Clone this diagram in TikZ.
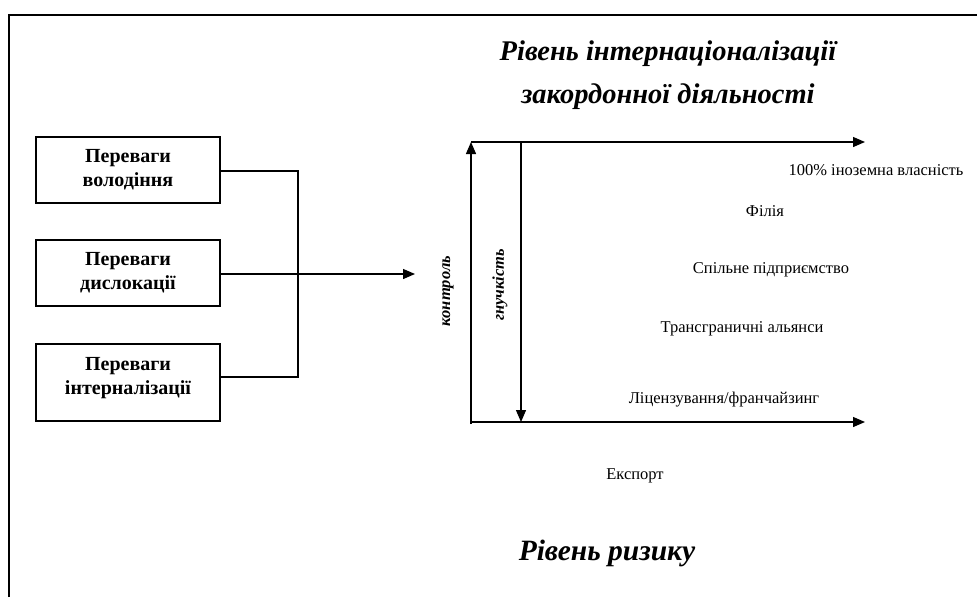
\documentclass[tikz,border=0pt]{standalone}
\usepackage{fontspec}
\setmainfont{Liberation Serif}
\usetikzlibrary{arrows.meta}
\begin{document}
\begin{tikzpicture}[x=1pt,y=-1pt, line width=1.3pt,
  >={Triangle[length=12pt,width=10pt]},
  box/.style={draw, line width=1.2pt, minimum width=184pt, align=center,
    font=\fontsize{20}{24}\selectfont\bfseries, inner sep=0pt},
  lbl/.style={font=\fontsize{16.5}{18}\selectfont, inner sep=0pt},
  ttl/.style={font=\fontsize{28.5}{32}\selectfont\bfseries\itshape, inner sep=0pt},
  vlbl/.style={font=\fontsize{16.5}{18}\selectfont\bfseries\itshape, inner sep=0pt, rotate=90}]
\useasboundingbox (0,0) rectangle (977,597);
\draw[line width=1.6pt] (9,597) -- (9,15) -- (977,15);

\node[ttl] (t1) at (668,54) {Рівень інтернаціоналізації};
\node[ttl] (t2) at (668,97) {закордонної діяльності};
\node[ttl, font=\fontsize{29.5}{32}\selectfont\bfseries\itshape] (t3) at (607,553) {Рівень ризику};

\node[box, minimum height=66pt] (b1) at (128,170) {Переваги\\володіння};
\node[box, minimum height=66pt] (b2) at (128,273) {Переваги\\дислокації};
\node[box, minimum height=77pt] (b3) at (128,382.5) {Переваги\\інтерналізації\\[-10pt]\mbox{}};

\coordinate (j) at (298,274);
\coordinate (arr) at (415,274);
\draw (b1.east |- 0,171) -| (j) |- (b3.east |- 0,377);
\draw[->] (b2.east |- 0,274) -- (arr);

\coordinate (O) at (471,422);
\coordinate (Ob) at (471,424);
\coordinate (TL) at (471,142);
\coordinate (TR) at (865,142);
\coordinate (BR) at (865,422);
\coordinate (Gt) at (521,142);
\coordinate (Gb) at (521,422);
\draw[->] (Ob) -- (TL);
\draw[->] (TL) -- (TR);
\draw[->] (O) -- (BR);
\draw[->] (Gt) -- (Gb);

\node[vlbl] (k) at (448,291) {контроль};
\node[vlbl] (g) at (500,285) {гнучкість};

\node[lbl] (l1) at (876,170) {100\% іноземна власність};
\node[lbl] (l2) at (765,211) {Філія};
\node[lbl] (l3) at (771,270) {Спільне підприємство};
\node[lbl] (l4) at (742,329) {Трансграничні альянси};
\node[lbl] (l5) at (724,400) {Ліцензування/франчайзинг};
\node[lbl] (l6) at (635,476) {Експорт};
\end{tikzpicture}
\end{document}
